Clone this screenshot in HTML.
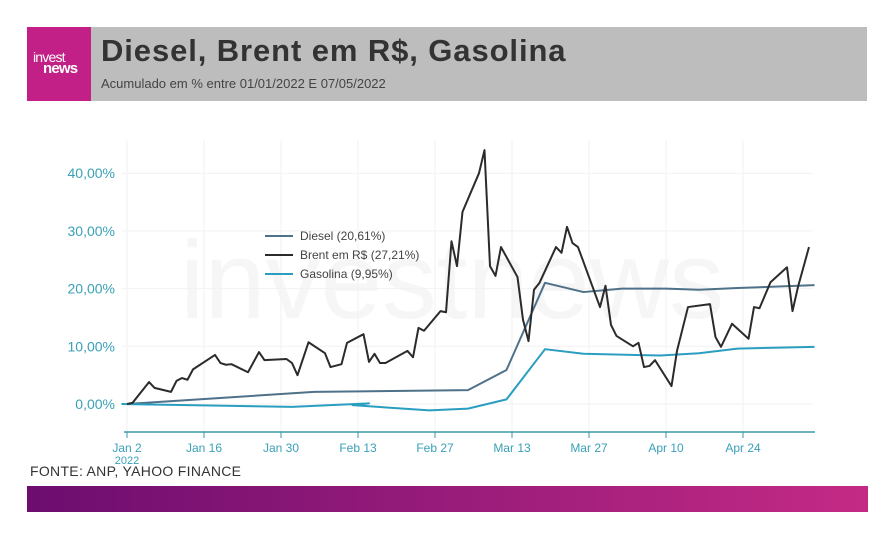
<!DOCTYPE html>
<html><head><meta charset="utf-8">
<style>
body{margin:0;background:#fff;width:895px;height:540px;overflow:hidden;font-family:"Liberation Sans",sans-serif;}
#hdr{position:absolute;left:27px;top:27px;width:840px;height:74px;background:#bdbdbd;}
#logo{position:absolute;left:27px;top:27px;width:64px;height:74px;background:#c21f87;color:#fff;}
#title{position:absolute;left:101px;top:33px;font-size:31px;font-weight:bold;color:#333;letter-spacing:0.9px;}
#sub{position:absolute;left:101px;top:76px;font-size:13px;color:#444;}
#fonte{position:absolute;left:30px;top:463px;font-size:14px;color:#333;letter-spacing:0.3px;}
#bar{position:absolute;left:27px;top:486px;width:841px;height:26px;background:linear-gradient(90deg,#6c0d6f,#c42a85);}
svg{position:absolute;left:0;top:0;}
</style></head><body>
<div id="hdr"></div>
<div id="logo"><div style="position:absolute;left:6px;top:25px;font-size:14px;line-height:11px;letter-spacing:-0.8px">invest<br><span style="margin-left:10px;font-weight:bold;font-size:15px">news</span></div></div>
<div id="title">Diesel, Brent em R$, Gasolina</div>
<div id="sub">Acumulado em % entre 01/01/2022 E 07/05/2022</div>
<div id="fonte">FONTE: ANP, YAHOO FINANCE</div>
<div id="bar"></div>
<svg id="chart" width="895" height="540"></svg>
<script>
const yTicks=[0,10,20,30,40];
const yTickLabels=["0,00%","10,00%","20,00%","30,00%","40,00%"];
const xTickDays=[0,14,28,42,56,70,84,98,112];
const xTickLabels=["Jan 2","Jan 16","Jan 30","Feb 13","Feb 27","Mar 13","Mar 27","Apr 10","Apr 24"];
const brentDays=[0,1,4,5,8,9,10,11,12,16,17,18,19,22,24,25,29,30,31,33,36,37,39,40,43,44,45,46,47,51,52,53,54,57,58,59,60,61,64,65,66,67,68,71,72,73,74,75,78,79,80,81,82,86,87,88,89,92,93,94,95,96,99,100,102,106,107,108,110,113,114,115,117,120,121,122,124];
const brentVals=[0,0.2,3.8,2.8,2.1,4,4.5,4.2,6,8.5,7.1,6.8,6.9,5.5,9,7.6,7.8,7.1,5,10.7,8.8,6.4,6.9,10.6,12.1,7.3,8.7,7.1,7.1,9.2,8.1,13.2,12.7,16.1,15.9,28.2,23.9,33.3,40,44,23.9,22.2,27.2,22,14.6,10.9,19.8,21,27.2,26.2,30.7,27.9,27.2,16.8,20.5,13.7,11.8,10,10.6,6.4,6.6,7.6,3.1,9.2,16.8,17.3,11.6,9.9,13.9,11.3,16.8,16.6,21.1,23.7,16.1,20.3,27.2];
const dieselDays=[0,34,62,69,76,83,90,98,104,111,125];
const dieselVals=[0,2.1,2.4,5.9,21,19.4,20,20,19.8,20.1,20.6];
const gasDays=[-1,30,44,41,55,62,69,76,83,97,104,111,125];
const gasVals=[0,-0.5,0.1,-0.2,-1.1,-0.8,0.8,9.5,8.7,8.4,8.8,9.6,9.9];
const X=d=>127+d*5.5, Y=v=>404-v*5.77;
const svg=document.getElementById('chart'),NS='http://www.w3.org/2000/svg';
function mk(t,a,p){const e=document.createElementNS(NS,t);for(const k in a)e.setAttribute(k,a[k]);(p||svg).appendChild(e);return e;}
let wm=mk('text',{x:180,y:318,'font-size':110,fill:'#f6f6f6','font-family':'Liberation Sans, sans-serif'});wm.textContent='investnews';


yTicks.forEach((t,i)=>{let g=mk('line',{x1:122,x2:813,y1:Y(t),y2:Y(t),stroke:'#f2f2f2'});


let l=mk('text',{x:115,y:Y(t)+5,'text-anchor':'end','font-size':14,fill:'#3aa0b8'});l.textContent=yTickLabels[i];

});
xTickDays.forEach((d,i)=>{let g=mk('line',{x1:X(d),x2:X(d),y1:140,y2:432,stroke:'#f2f2f2'});


let t=mk('line',{x1:X(d),x2:X(d),y1:432,y2:438,stroke:'#3a9aaa'});


let l=mk('text',{x:X(d),y:452,'text-anchor':'middle','font-size':12,fill:'#3aa0b8'});l.textContent=xTickLabels[i];

});
let yr=mk('text',{x:127,y:464,'text-anchor':'middle','font-size':11,fill:'#3aa0b8'});yr.textContent='2022';


let ax=mk('line',{x1:124,x2:815,y1:432,y2:432,stroke:'#3a9aaa','stroke-width':1.5});


function line(days,vals,col,name){let p=mk('polyline',{points:days.map((d,i)=>X(d)+','+Y(vals[i])).join(' '),fill:'none',stroke:col,'stroke-width':2,'stroke-linejoin':'round'});

}
line(dieselDays,dieselVals,'#4f7189','diesel-line');
line(gasDays,gasVals,'#2a9ec1','gasolina-line');
line(brentDays,brentVals,'#2b2b2b','brent-line');
const legNames=["Diesel (20,61%)","Brent em R$ (27,21%)","Gasolina (9,95%)"],legCols=['#4f7189','#2b2b2b','#2a9ec1'];
legNames.forEach((n,i)=>{let y=236+i*19;let g=mk('g',{});


mk('line',{x1:265,x2:293,y1:y,y2:y,stroke:legCols[i],'stroke-width':2},g);
let t=mk('text',{x:300,y:y+4,'font-size':12,fill:'#444'},g);t.textContent=n;});
</script>
</body></html>
